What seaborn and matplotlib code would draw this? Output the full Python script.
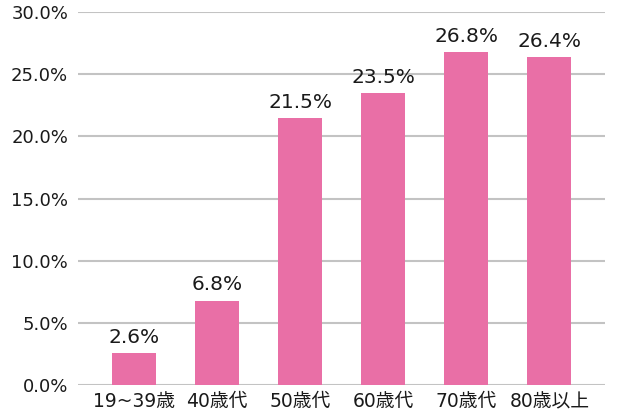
import matplotlib
matplotlib.use("Agg")
import matplotlib.pyplot as plt
import seaborn as sns
import pandas as pd

categories = ["19~39歳", "40歳代", "50歳代", "60歳代", "70歳代", "80歳以上"]
values = [2.6, 6.8, 21.5, 23.5, 26.8, 26.4]
yticks = [0, 5, 10, 15, 20, 25, 30]

sns.set_theme(style="white")
plt.rcParams['font.family'] = ['DejaVu Sans', 'Noto Sans CJK JP']

df = pd.DataFrame({"cat": categories, "val": values})

fig = plt.figure(figsize=(6.18, 4.19), dpi=100)
ax = fig.add_axes([0.126, 0.081, 0.853, 0.890])
sns.barplot(data=df, x="cat", y="val", color="#E96FA6", saturation=1, width=0.53,
            linewidth=0, ax=ax, zorder=3)

ax.set_ylim(0, 30)
ax.set_xlim(-0.675, 5.67)
ax.set_yticks(yticks)
ax.set_yticklabels([f"{t:.1f}%" for t in yticks], fontsize=13, color="#1a1a1a")
ax.tick_params(axis="x", labelsize=13.5, colors="#1a1a1a", length=0, pad=5)
ax.tick_params(axis="y", length=0, pad=7)
ax.grid(axis="y", color="#C3C3C3", linewidth=1.5, zorder=0)
ax.set_axisbelow(True)
for s in ax.spines.values():
    s.set_visible(False)
ax.set_xlabel("")
ax.set_ylabel("")

for i, v in enumerate(values):
    ax.text(i, v + 0.5, f"{v:.1f}%", ha="center", va="bottom", fontsize=14.5, color="#1a1a1a")

fig.savefig("out.png", dpi=100)
